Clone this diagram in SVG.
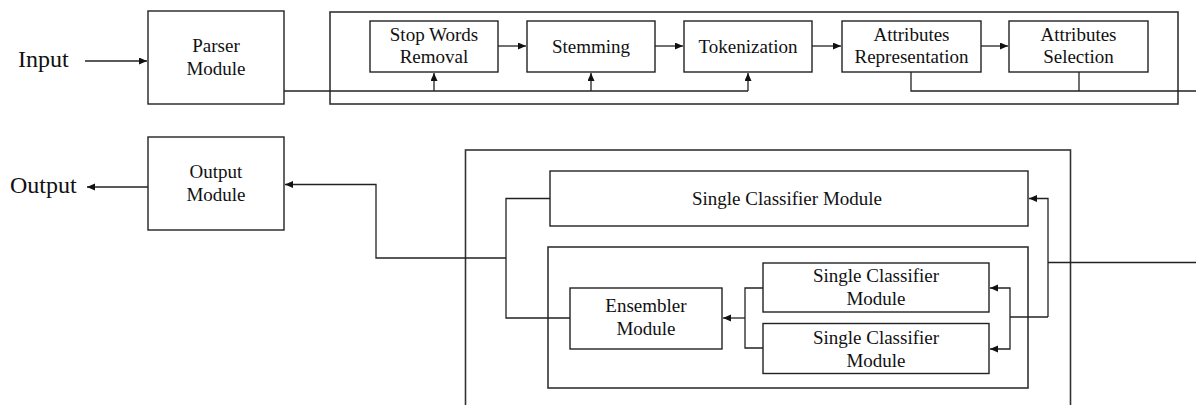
<svg xmlns="http://www.w3.org/2000/svg" width="1196" height="405" viewBox="0 0 1196 405">
  <style>
    .box { fill: #fff; stroke: #222; stroke-width: 1.4; }
    .frame { fill: none; stroke: #333; stroke-width: 1.6; }
    .wire { fill: none; stroke: #222; stroke-width: 1.3; }
    .lbl { font-family: "Liberation Serif", "Times New Roman", serif; font-size: 19px; fill: #111; text-anchor: middle; }
    .io { font-family: "Liberation Serif", "Times New Roman", serif; font-size: 24px; fill: #111; }
  </style>
  <defs>
    <marker id="arrow" markerWidth="9" markerHeight="8" refX="8" refY="3.5" orient="auto" markerUnits="userSpaceOnUse">
      <path d="M0,0 L8,3.5 L0,7 z" fill="#111"/>
    </marker>
  </defs>

  <rect width="1196" height="405" fill="#fff"/>

  <!-- enclosing frames -->
  <g id="preprocessing-frame">
    <rect class="frame" x="330" y="12" width="848" height="92"/>
  </g>
  <g id="classification-frame">
    <rect class="frame" x="465.5" y="150" width="605" height="270"/>
    <rect class="frame" x="548" y="247" width="480" height="141"/>
  </g>

  <!-- connectors -->
  <g id="connectors">
    <line class="wire" x1="85" y1="61" x2="147" y2="61" marker-end="url(#arrow)"/>
    <line class="wire" x1="148" y1="187" x2="87" y2="187" marker-end="url(#arrow)"/>
    <!-- parser output feeding the preprocessing steps -->
    <polyline class="wire" points="284,91 748,91"/>
    <line class="wire" x1="434" y1="91" x2="434" y2="73" marker-end="url(#arrow)"/>
    <line class="wire" x1="591" y1="91" x2="591" y2="73" marker-end="url(#arrow)"/>
    <line class="wire" x1="748" y1="91" x2="748" y2="73" marker-end="url(#arrow)"/>
    <!-- step chain -->
    <line class="wire" x1="498" y1="46" x2="526" y2="46" marker-end="url(#arrow)"/>
    <line class="wire" x1="655" y1="46" x2="683" y2="46" marker-end="url(#arrow)"/>
    <line class="wire" x1="812" y1="46" x2="841" y2="46" marker-end="url(#arrow)"/>
    <line class="wire" x1="981" y1="46" x2="1008" y2="46" marker-end="url(#arrow)"/>
    <!-- attribute outputs -->
    <polyline class="wire" points="911,72 911,91 1196,91"/>
    <line class="wire" x1="1079" y1="72" x2="1079" y2="91"/>
    <!-- classifier input -->
    <polyline class="wire" points="1196,262.5 1048,262.5"/>
    <polyline class="wire" points="1048,317 1048,198.5 1029,198.5" marker-end="url(#arrow)"/>
    <polyline class="wire" points="1048,317 1010,317"/>
    <polyline class="wire" points="1010,317 1010,288 990,288" marker-end="url(#arrow)"/>
    <polyline class="wire" points="1010,317 1010,349 990,349" marker-end="url(#arrow)"/>
    <!-- single classifiers to ensembler -->
    <polyline class="wire" points="763,288 745,288 745,348 763,348"/>
    <line class="wire" x1="745" y1="318" x2="723" y2="318" marker-end="url(#arrow)"/>
    <!-- classifier results back to output -->
    <polyline class="wire" points="550,198.5 506,198.5 506,318 570,318"/>
    <polyline class="wire" points="506,258 376,258 376,184.5 285,184.5" marker-end="url(#arrow)"/>
  </g>

  <!-- labels outside the boxes -->
  <text class="io" x="18" y="67">Input</text>
  <text class="io" x="10" y="193">Output</text>

  <g id="parser-module">
    <rect class="box" x="148" y="11" width="136" height="93"/>
    <text class="lbl" x="216" y="52">Parser</text>
    <text class="lbl" x="216" y="75">Module</text>
  </g>

  <g id="stop-words-removal">
    <rect class="box" x="370" y="21" width="128" height="51"/>
    <text class="lbl" x="434" y="40.5">Stop Words</text>
    <text class="lbl" x="434" y="63">Removal</text>
  </g>

  <g id="stemming">
    <rect class="box" x="527" y="21" width="128" height="51"/>
    <text class="lbl" x="591" y="53">Stemming</text>
  </g>

  <g id="tokenization">
    <rect class="box" x="684" y="21" width="128" height="51"/>
    <text class="lbl" x="748" y="53">Tokenization</text>
  </g>

  <g id="attributes-representation">
    <rect class="box" x="842" y="21" width="139" height="51"/>
    <text class="lbl" x="911.5" y="40.5">Attributes</text>
    <text class="lbl" x="911.5" y="63">Representation</text>
  </g>

  <g id="attributes-selection">
    <rect class="box" x="1009" y="21" width="139" height="51"/>
    <text class="lbl" x="1078.5" y="40.5">Attributes</text>
    <text class="lbl" x="1078.5" y="63">Selection</text>
  </g>

  <g id="output-module">
    <rect class="box" x="148" y="137" width="136" height="93"/>
    <text class="lbl" x="216" y="178">Output</text>
    <text class="lbl" x="216" y="201">Module</text>
  </g>

  <g id="single-classifier">
    <rect class="box" x="550" y="171" width="478" height="55"/>
    <text class="lbl" x="787" y="204.5">Single Classifier Module</text>
  </g>

  <g id="ensembler-module">
    <rect class="box" x="570" y="288" width="152" height="61"/>
    <text class="lbl" x="646" y="312">Ensembler</text>
    <text class="lbl" x="646" y="335">Module</text>
  </g>

  <g id="single-classifier-a">
    <rect class="box" x="763" y="263" width="226" height="49"/>
    <text class="lbl" x="876" y="282">Single Classifier</text>
    <text class="lbl" x="876" y="305">Module</text>
  </g>

  <g id="single-classifier-b">
    <rect class="box" x="763" y="323.5" width="226" height="50"/>
    <text class="lbl" x="876" y="343.5">Single Classifier</text>
    <text class="lbl" x="876" y="366.5">Module</text>
  </g>
</svg>
